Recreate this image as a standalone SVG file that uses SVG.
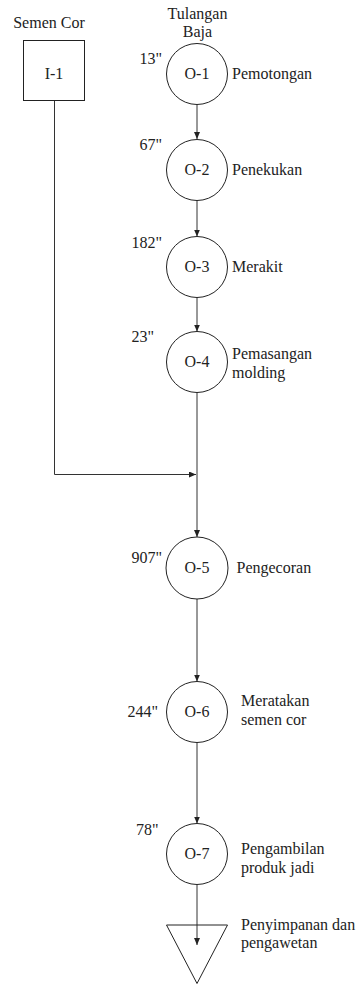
<svg xmlns="http://www.w3.org/2000/svg" width="358" height="986" viewBox="0 0 358 986">
  <defs>
    <marker id="arrow" markerWidth="8" markerHeight="6" refX="7" refY="3" orient="auto" markerUnits="userSpaceOnUse">
      <path d="M0,0 L7,3 L0,6 Z" fill="#222"/>
    </marker>
  </defs>
  <style>
    text { font-family: "Liberation Serif", "DejaVu Serif", serif; font-size: 16px; fill: #222; }
    .c { text-anchor: middle; }
    .r { text-anchor: end; }
    .shape { fill: #fff; stroke: #222; stroke-width: 1; }
    .open { fill: none; stroke: #222; stroke-width: 1; }
    .flow { fill: none; stroke: #333; stroke-width: 1; }
  </style>
  <rect width="358" height="986" fill="#fff"/>

  <!-- connectors -->
  <g id="connectors">
    <path class="flow" d="M54.5,100.5 V474.5 H196" marker-end="url(#arrow)"/>
    <path class="flow" d="M197,104.5 V139" marker-end="url(#arrow)"/>
    <path class="flow" d="M197,200.5 V236.5" marker-end="url(#arrow)"/>
    <path class="flow" d="M197,297.5 V331.5" marker-end="url(#arrow)"/>
    <path class="flow" d="M197,392.5 V537" marker-end="url(#arrow)"/>
    <path class="flow" d="M197,599 V681.5" marker-end="url(#arrow)"/>
    <path class="flow" d="M197,742.5 V823.5" marker-end="url(#arrow)"/>
    <path class="flow" d="M197,885 V945" marker-end="url(#arrow)"/>
  </g>

  <!-- input: semen cor -->
  <g id="I-1">
    <text class="c" x="49" y="27.5">Semen Cor</text>
    <rect class="shape" x="23.5" y="40.5" width="61" height="60"/>
    <text class="c" x="54" y="79">I-1</text>
  </g>

  <g id="tulangan-baja">
    <text class="c" x="197.5" y="19">Tulangan</text>
    <text class="c" x="197.5" y="37">Baja</text>
  </g>

  <g id="O-1">
    <circle class="shape" cx="197" cy="74" r="30.5"/>
    <text class="c" x="197" y="79.3">O-1</text>
    <text class="r" x="162" y="64">13"</text>
    <text x="232" y="79.3">Pemotongan</text>
  </g>

  <g id="O-2">
    <circle class="shape" cx="197" cy="170" r="30.5"/>
    <text class="c" x="197" y="175.3">O-2</text>
    <text class="r" x="162" y="150">67"</text>
    <text x="232" y="175.3">Penekukan</text>
  </g>

  <g id="O-3">
    <circle class="shape" cx="197" cy="267" r="30.5"/>
    <text class="c" x="197" y="272.3">O-3</text>
    <text class="r" x="162" y="247.5">182"</text>
    <text x="232" y="272.3">Merakit</text>
  </g>

  <g id="O-4">
    <circle class="shape" cx="197" cy="362" r="30.5"/>
    <text class="c" x="197" y="367.3">O-4</text>
    <text class="r" x="154" y="341.5">23"</text>
    <text x="232" y="359">Pemasangan</text>
    <text x="232" y="377.5">molding</text>
  </g>

  <g id="O-5">
    <circle class="shape" cx="197" cy="568" r="31"/>
    <text class="c" x="197" y="573.3">O-5</text>
    <text class="r" x="162" y="562.5">907"</text>
    <text x="236.5" y="573.3">Pengecoran</text>
  </g>

  <g id="O-6">
    <circle class="shape" cx="197" cy="712" r="30.5"/>
    <text class="c" x="197" y="717.3">O-6</text>
    <text class="r" x="158" y="717">244"</text>
    <text x="241" y="706">Meratakan</text>
    <text x="241" y="725">semen cor</text>
  </g>

  <g id="O-7">
    <circle class="shape" cx="197" cy="854" r="30.5"/>
    <text class="c" x="197" y="859.3">O-7</text>
    <text class="r" x="158.5" y="835">78"</text>
    <text x="241" y="853.5">Pengambilan</text>
    <text x="241" y="872.5">produk jadi</text>
  </g>

  <!-- storage -->
  <g id="S-1">
    <path class="open" d="M166.5,925 H227.5 L197,983.5 Z"/>
    <text x="241" y="930">Penyimpanan dan</text>
    <text x="241" y="947.5">pengawetan</text>
  </g>
</svg>
